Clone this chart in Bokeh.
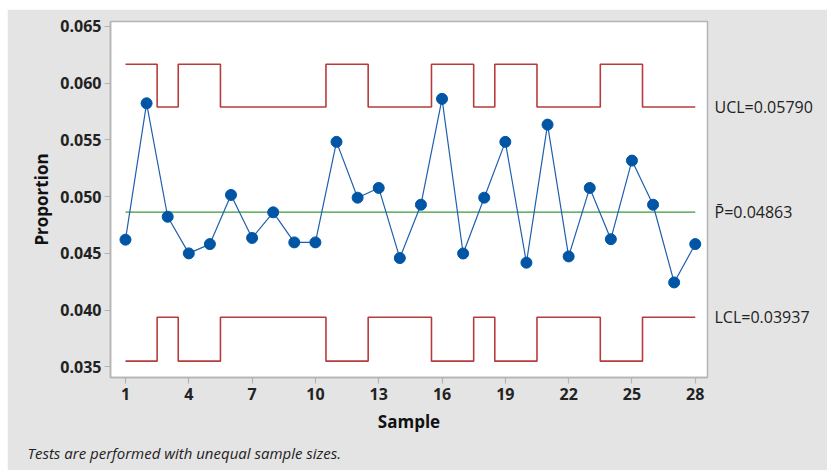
from bokeh.plotting import figure
from bokeh.models import (FixedTicker, CustomJSTickFormatter, Range1d, LinearAxis, Title)
from bokeh.embed import file_html
from bokeh.resources import INLINE

samples = list(range(1, 29))
proportion = [0.04621, 0.05823, 0.04823, 0.04500, 0.04582, 0.05015, 0.04636,
              0.04862, 0.04597, 0.04597, 0.05483, 0.04991, 0.05077, 0.04459,
              0.04929, 0.05862, 0.04499, 0.04991, 0.05483, 0.04418, 0.05635,
              0.04473, 0.05077, 0.04625, 0.05318, 0.04929, 0.04244, 0.04582]
small_n = [1, 1, 0, 1, 1, 0, 0, 0, 0, 0, 1, 1, 0, 0, 0, 1, 1, 0, 1, 1, 0, 0, 0, 1, 1, 0, 0, 0]
ucl_wide, ucl_main = 0.06167, 0.05790
lcl_wide, lcl_main = 0.03550, 0.03937
pbar = 0.04863
ucl = [ucl_wide if s else ucl_main for s in small_n]
lcl = [lcl_wide if s else lcl_main for s in small_n]
x_ticks = [1, 4, 7, 10, 13, 16, 19, 22, 25, 28]
y_ticks = [0.035, 0.040, 0.045, 0.050, 0.055, 0.060, 0.065]
limit_names = ["LCL", "P\u0304", "UCL"]
limit_values = [lcl_main, pbar, ucl_main]

FONT = "Open Sans"
GRAY_BG = "#e4e4e4"
AX = "#b4b4b4"

p = figure(width=820, height=461, output_backend="svg", toolbar_location=None,
           x_range=Range1d(0.29, 28.58), y_range=Range1d(0.03406, 0.06544),
           min_border_left=103, min_border_right=120, min_border_top=12,
           min_border_bottom=93)
p.margin = (9, 0, 0, 7)
p.background_fill_color = "white"
p.border_fill_color = GRAY_BG
p.outline_line_color = AX
p.outline_line_width = 1.5
p.xgrid.visible = False
p.ygrid.visible = False

red = "#b73b3b"
p.step(samples, ucl, mode="center", line_color=red, line_width=1.6)
p.step(samples, lcl, mode="center", line_color=red, line_width=1.6)
p.line([samples[0], samples[-1]], [pbar, pbar], line_color="#3a9a3a", line_width=1.3)
p.line(samples, proportion, line_color="#1f5fae", line_width=1.2)
p.scatter(samples, proportion, size=11, fill_color="#0055a5", line_color="#0055a5")

for ax in (p.xaxis[0], p.yaxis[0]):
    ax.axis_line_color = AX
    ax.axis_line_width = 1.5
    ax.major_tick_line_color = AX
    ax.major_tick_line_width = 1.2
    ax.major_tick_out = 6
    ax.major_tick_in = 0
    ax.minor_tick_line_color = None
    ax.major_label_text_font = FONT
    ax.major_label_text_font_size = "16px"
    ax.major_label_text_font_style = "bold"
    ax.major_label_text_color = "#222222"
    ax.axis_label_text_font = FONT
    ax.axis_label_text_font_style = "bold"
    ax.axis_label_text_font_size = "17px"
    ax.axis_label_text_color = "#111111"

p.xaxis.ticker = FixedTicker(ticks=x_ticks)
p.yaxis.ticker = FixedTicker(ticks=y_ticks)
p.yaxis.formatter = CustomJSTickFormatter(code="return tick.toFixed(3);")
p.xaxis.axis_label = "Sample"
p.yaxis.axis_label = "Proportion"
p.xaxis.major_label_standoff = 4
p.yaxis.major_label_standoff = 3
p.xaxis.axis_label_standoff = 7
p.yaxis.axis_label_standoff = 4

right = LinearAxis(
    ticker=FixedTicker(ticks=limit_values),
    formatter=CustomJSTickFormatter(
        args=dict(names=limit_names, vals=limit_values),
        code="""
        let best = 0;
        for (let i = 0; i < vals.length; i++) {
            if (Math.abs(vals[i] - tick) < Math.abs(vals[best] - tick)) best = i;
        }
        return names[best] + "=" + vals[best].toFixed(5);
        """),
    axis_line_color=None, major_tick_line_color=None, minor_tick_line_color=None,
    major_tick_out=0, major_tick_in=0, major_label_standoff=7,
    major_label_text_font=FONT, major_label_text_font_size="16px",
    major_label_text_color="#222222")
p.add_layout(right, "right")

note = Title(text="Tests are performed with unequal sample sizes.", align="left",
             offset=-83, text_font=FONT, text_font_size="15px",
             text_font_style="italic", text_color="#222222", standoff=10)
p.add_layout(note, "below")

open("out.html", "w").write(file_html(p, INLINE))
